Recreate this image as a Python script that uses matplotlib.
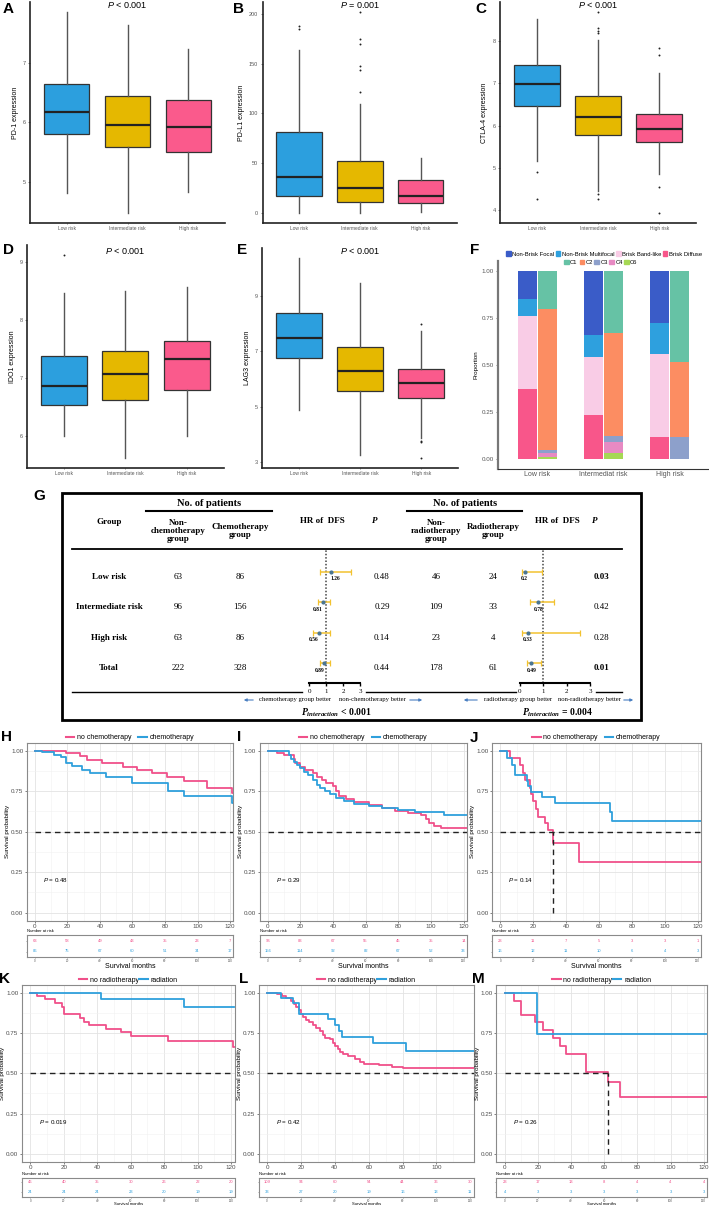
import numpy as np
import matplotlib
matplotlib.use("Agg")
import matplotlib.pyplot as plt
from matplotlib.lines import Line2D
from matplotlib.patches import Patch, Rectangle

W, H = 709, 1207
SERIF = "Liberation Serif"

plt.rcParams["font.family"] = ["Liberation Sans", "DejaVu Sans"]
plt.rcParams["mathtext.fontset"] = "custom"
plt.rcParams["mathtext.it"] = "Liberation Serif:italic:bold"
plt.rcParams["mathtext.rm"] = "Liberation Serif:bold"
plt.rcParams["mathtext.sf"] = "Liberation Sans:italic"

# -------------------------------
# Data: boxplots A-E
# -------------------------------
risk_groups = ["Low risk", "Intermediate risk", "High risk"]
risk_colors = ["#2C9FDE", "#E5B800", "#FA5A8C"]

# [lower whisker, Q1, median, Q3, upper whisker] per risk group
pd1_box = [[4.82, 5.81, 6.18, 6.64, 7.85],
           [4.48, 5.58, 5.96, 6.45, 7.63],
           [4.83, 5.50, 5.92, 6.38, 7.23]]
pd1_out = [[], [], []]

pdl1_box = [[0.0, 17.0, 36.5, 81.7, 164.0],
            [0.0, 11.0, 25.4, 52.0, 110.0],
            [1.3, 9.7, 17.0, 33.0, 55.0]]
pdl1_out = [[184.6, 188.0],
            [122.0, 143.7, 148.0, 169.5, 175.0, 202.0],
            []]

ctla4_box = [[5.17, 6.46, 6.98, 7.42, 8.52],
             [4.45, 5.79, 6.20, 6.71, 8.01],
             [4.87, 5.61, 5.91, 6.28, 7.24]]
ctla4_out = [[4.91, 4.27],
             [8.68, 8.30, 8.23, 8.19, 4.39, 4.27],
             [7.84, 7.66, 4.55, 3.94]]

ido1_box = [[6.00, 6.54, 6.86, 7.37, 8.46],
            [5.63, 6.63, 7.07, 7.47, 8.49],
            [6.00, 6.80, 7.33, 7.63, 8.56]]
ido1_out = [[9.11], [], []]

lag3_box = [[4.88, 6.74, 7.46, 8.37, 10.37],
            [3.26, 5.58, 6.30, 7.14, 9.45],
            [3.86, 5.30, 5.84, 6.35, 7.74]]
lag3_out = [[], [], [8.0, 3.76, 3.72, 3.14]]

# -------------------------------
# Data: stacked proportions F
# -------------------------------
f_groups = ["Low risk", "Intermediat risk", "High risk"]
til_types = ["Non-Brisk Focal", "Non-Brisk Multifocal", "Brisk Band-like", "Brisk Diffuse"]
til_colors = ["#3A5CC8", "#2EA0DE", "#F9CCE6", "#F8568A"]
til_focal = [0.152, 0.341, 0.279]
til_multifocal = [0.087, 0.118, 0.163]
til_bandlike = [0.390, 0.306, 0.441]
til_diffuse = [0.371, 0.235, 0.117]
subtypes = ["C1", "C2", "C3", "C4", "C6"]
subtype_colors = ["#66C2A5", "#FC8D62", "#8DA0CB", "#E78AC3", "#A6D854"]
sub_c1 = [0.203, 0.332, 0.482]
sub_c2 = [0.748, 0.543, 0.401]
sub_c3 = [0.017, 0.035, 0.117]
sub_c4 = [0.018, 0.058, 0.0]
sub_c6 = [0.014, 0.032, 0.0]

# -------------------------------
# Data: forest table G
# -------------------------------
group_names = ["Low risk", "Intermediate risk", "High risk", "Total"]
n_nonchemo = [63, 96, 63, 222]
n_chemo = [86, 156, 86, 328]
hr_chemo = [1.26, 0.81, 0.56, 0.89]
ci_chemo_lo = [0.63, 0.53, 0.24, 0.63]
ci_chemo_hi = [2.46, 1.22, 1.22, 1.22]
p_chemo = [0.48, 0.29, 0.14, 0.44]
n_nonradio = [46, 109, 23, 178]
n_radio = [24, 33, 4, 61]
hr_radio = [0.2, 0.78, 0.33, 0.49]
ci_radio_lo = [0.07, 0.43, 0.07, 0.29]
ci_radio_hi = [0.96, 1.47, 2.58, 0.90]
p_radio = [0.03, 0.42, 0.28, 0.01]

# -------------------------------
# Data: Kaplan-Meier H-M (step times, survival after step)
# -------------------------------
km_months = [0, 20, 40, 60, 80, 100, 120]

h_no_t = [0, 19, 28, 32, 41, 54, 63, 72, 81, 92, 106, 121, 122]
h_no_s = [1, 0.983, 0.966, 0.941, 0.921, 0.90, 0.88, 0.86, 0.838, 0.814, 0.767, 0.736, 0.736]
h_yes_t = [0, 4.5, 12, 16, 19, 23, 29, 34, 44, 60, 82, 92, 121, 122]
h_yes_s = [1, 0.99, 0.975, 0.958, 0.925, 0.906, 0.88, 0.859, 0.838, 0.80, 0.752, 0.719, 0.674, 0.674]

i_no_t = [0, 6, 10, 16, 17, 20, 23, 28, 30, 33, 36, 40, 42, 44, 48, 53, 62, 70, 78, 86, 94, 97, 99, 102, 106, 122]
i_no_s = [1, 0.985, 0.97, 0.95, 0.925, 0.90, 0.88, 0.86, 0.84, 0.82, 0.80, 0.78, 0.75, 0.72, 0.70, 0.68,
          0.665, 0.645, 0.63, 0.615, 0.60, 0.575, 0.555, 0.535, 0.52, 0.52]
i_yes_t = [0, 13, 14, 16, 18, 20, 22, 25, 28, 30, 32, 35, 38, 42, 47, 53, 62, 70, 80, 90, 108, 122]
i_yes_s = [1, 0.97, 0.95, 0.93, 0.91, 0.89, 0.87, 0.85, 0.82, 0.79, 0.77, 0.75, 0.73, 0.71, 0.69, 0.67,
           0.655, 0.645, 0.635, 0.62, 0.60, 0.60]

j_no_t = [0, 6, 12, 14, 15, 18, 19, 20, 22, 23, 27, 29, 32, 48, 122]
j_no_s = [1, 0.955, 0.91, 0.86, 0.82, 0.77, 0.73, 0.69, 0.64, 0.59, 0.55, 0.51, 0.43, 0.31, 0.31]
j_yes_t = [0, 4, 7, 9, 16, 17, 19, 25.5, 33, 66.4, 68, 122]
j_yes_s = [1, 0.955, 0.91, 0.85, 0.815, 0.78, 0.745, 0.712, 0.675, 0.623, 0.568, 0.568]

k_no_t = [0, 4, 9, 15, 19, 20, 30, 32, 35, 45, 54, 60, 82, 121, 122]
k_no_s = [1, 0.98, 0.96, 0.935, 0.91, 0.866, 0.84, 0.815, 0.80, 0.775, 0.755, 0.73, 0.70, 0.665, 0.665]
k_yes_t = [0, 42, 92, 122]
k_yes_s = [1, 0.961, 0.909, 0.909]

l_no_t = [0, 6, 9, 11, 14, 16, 17, 19, 20, 21, 23, 25, 27, 29, 31, 33, 34, 37, 39, 40, 42, 43, 45, 48,
          52, 55, 57, 66, 74, 80, 122]
l_no_s = [1, 0.99, 0.98, 0.97, 0.95, 0.93, 0.91, 0.89, 0.87, 0.85, 0.83, 0.82, 0.80, 0.78, 0.76, 0.74,
          0.72, 0.71, 0.69, 0.67, 0.65, 0.63, 0.62, 0.61, 0.59, 0.57, 0.56, 0.55, 0.54, 0.535, 0.535]
l_yes_t = [0, 8, 15, 19, 36, 40, 42.5, 44, 62.5, 82, 122]
l_yes_s = [1, 0.969, 0.938, 0.866, 0.835, 0.798, 0.763, 0.728, 0.687, 0.639, 0.639]

m_no_t = [0, 5.5, 9.7, 18.5, 22.9, 29, 33.1, 36.7, 48.8, 62, 69.8, 122]
m_no_s = [1, 0.951, 0.862, 0.815, 0.77, 0.719, 0.667, 0.622, 0.507, 0.446, 0.355, 0.355]
m_yes_t = [0, 19.3, 122]
m_yes_s = [1, 0.745, 0.745]

# numbers at risk at km_months (first: no treatment, second: treatment)
h_risk = [[63, 58, 49, 43, 35, 23, 7], [86, 75, 67, 60, 51, 34, 17]]
i_risk = [[96, 83, 67, 55, 45, 35, 14], [156, 114, 92, 82, 67, 52, 33]]
j_risk = [[23, 11, 7, 5, 3, 3, 1], [16, 12, 11, 10, 6, 4, 3]]
k_risk = [[46, 40, 35, 30, 26, 22, 20], [24, 24, 24, 23, 20, 19, 19]]
l_risk = [[109, 94, 60, 54, 44, 36, 30], [33, 27, 20, 19, 16, 13, 11]]
m_risk = [[23, 17, 13, 8, 4, 4, 4], [4, 3, 3, 3, 3, 3, 3]]

KM_PINK = "#F0508A"
KM_BLUE = "#2FA0DC"

# -------------------------------
# helpers (pixel layout)
# -------------------------------
fig = plt.figure(figsize=(W / 100, H / 100), dpi=100)


def px_axes(x0, y0, x1, y1, **kw):
    return fig.add_axes([x0 / W, 1 - y1 / H, (x1 - x0) / W, (y1 - y0) / H], **kw)


def px_text(x, y, s, **kw):
    return fig.text(x / W, 1 - y / H, s, **kw)


# -------------------------------
# A-E boxplots
# -------------------------------
box_panels = [
    (pd1_box, pd1_out, "PD-1 expression", [5, 6, 7], (30, 2, 225, 223), 4.5, "< 0.001"),
    (pdl1_box, pdl1_out, "PD-L1 expression", [0, 50, 100, 150, 200], (262.5, 2, 457, 223), 4.5, "= 0.001"),
    (ctla4_box, ctla4_out, "CTLA-4 expression", [4, 5, 6, 7, 8], (500, 2, 696, 223), 4.5, "< 0.001"),
    (ido1_box, ido1_out, "IDO1 expression", [6, 7, 8, 9], (27, 245, 223.5, 468), 251.5, "< 0.001"),
    (lag3_box, lag3_out, "LAG3 expression", [3, 5, 7, 9], (262, 248, 458, 468), 251.5, "< 0.001"),
]

for stats, outs, ylab, yt, (x0, y0, x1, y1), ty, ptxt in box_panels:
    ax = px_axes(x0, y0, x1, y1)
    bstats = [dict(whislo=s[0], q1=s[1], med=s[2], q3=s[3], whishi=s[4], fliers=o)
              for s, o in zip(stats, outs)]
    parts = ax.bxp(bstats, positions=[1, 2, 3], widths=0.75, patch_artist=True, showcaps=False,
                   boxprops=dict(edgecolor="#333333", linewidth=0.9),
                   medianprops=dict(color="#222222", linewidth=1.6),
                   whiskerprops=dict(color="#555555", linewidth=1.0),
                   flierprops=dict(marker="o", markersize=1.4, markerfacecolor="#222222",
                                   markeredgecolor="none"))
    for b, c in zip(parts["boxes"], risk_colors):
        b.set_facecolor(c)
    vals = [v for s in stats for v in s] + [v for o in outs for v in o]
    pad = 0.05 * (max(vals) - min(vals))
    ax.set_ylim(min(vals) - pad, max(vals) + pad)
    ax.set_xlim(0.4, 3.6)
    ax.set_yticks(yt)
    ax.set_xticks([1, 2, 3])
    ax.set_xticklabels(risk_groups)
    for s in ["top", "right"]:
        ax.spines[s].set_visible(False)
    for s in ["left", "bottom"]:
        ax.spines[s].set_color("#222222")
        ax.spines[s].set_linewidth(1.2)
    ax.tick_params(axis="y", length=1.5, width=0.5, colors="#555555", labelsize=4, pad=1.5)
    ax.tick_params(axis="x", length=1.0, width=0.5, colors="#555555", labelsize=3.5, pad=1.5)
    ax.set_ylabel(ylab, fontsize=5, labelpad=3)
    px_text((x0 + x1) / 2, ty, r"$\mathsf{P}$ " + ptxt, fontsize=6.5, ha="center", va="center")

# -------------------------------
# F stacked bars
# -------------------------------
axf = px_axes(497.7, 261.3, 709, 468.7)
xg = np.arange(1, 4)
bottom = np.zeros(3)
for vals, c in zip([til_diffuse, til_bandlike, til_multifocal, til_focal], til_colors[::-1]):
    axf.bar(xg - 0.15, vals, 0.29, bottom=bottom, color=c)
    bottom += np.array(vals)
bottom = np.zeros(3)
for vals, c in zip([sub_c6, sub_c4, sub_c3, sub_c2, sub_c1], subtype_colors[::-1]):
    axf.bar(xg + 0.15, vals, 0.29, bottom=bottom, color=c)
    bottom += np.array(vals)
axf.set_xlim(0.4, 3.6)
axf.set_ylim(-0.05, 1.05)
axf.set_yticks([0, 0.25, 0.5, 0.75, 1.0])
axf.set_yticklabels(["0.00", "0.25", "0.50", "0.75", "1.00"])
axf.set_xticks(xg)
axf.set_xticklabels(f_groups)
for s in ["top", "right"]:
    axf.spines[s].set_visible(False)
axf.spines["left"].set_color("#777777")
axf.spines["left"].set_linewidth(1.6)
axf.spines["bottom"].set_color("#333333")
axf.spines["bottom"].set_linewidth(0.8)
axf.tick_params(axis="y", length=1.5, width=0.5, colors="#555555", labelsize=4.5, pad=1.5)
axf.tick_params(axis="x", length=0, colors="#555555", labelsize=5, pad=2)
axf.set_ylabel("Proportion", fontsize=4.5, labelpad=2)
fig.legend([Patch(color=c) for c in til_colors], til_types, loc="center",
           bbox_to_anchor=(604 / W, 1 - 254 / H), ncol=4, frameon=False, fontsize=4.2,
           handlelength=0.8, handleheight=0.8, handletextpad=0.2, columnspacing=0.3, borderpad=0)
fig.legend([Patch(color=c) for c in subtype_colors], subtypes, loc="center",
           bbox_to_anchor=(601 / W, 1 - 262.5 / H), ncol=5, frameon=False, fontsize=4.2,
           handlelength=0.8, handleheight=0.8, handletextpad=0.2, columnspacing=0.3, borderpad=0)

# -------------------------------
# G forest table
# -------------------------------
g = px_axes(0, 480, W, 730)
g.set_xlim(0, W)
g.set_ylim(730, 480)
g.axis("off")
g.add_patch(Rectangle((62, 493), 579, 227, fill=False, lw=2, ec="black", clip_on=False))
hdr = dict(family=SERIF, fontweight="bold", ha="center", va="center")
txt = dict(family=SERIF, ha="center", va="center")
g.text(208.7, 504, "No. of patients", fontsize=7.5, **hdr)
g.text(465, 504, "No. of patients", fontsize=7.5, **hdr)
g.plot([146, 272], [511, 511], color="black", lw=1.5)
g.plot([407, 522], [511, 511], color="black", lw=1.5)
g.text(109, 522, "Group", fontsize=6.5, **hdr)
g.text(178, 531, "Non-\nchemotherapy\ngroup", fontsize=6.5, linespacing=1.05, **hdr)
g.text(240, 531, "Chemotherapy\ngroup", fontsize=6.5, linespacing=1.05, **hdr)
g.text(322, 521, "HR of  DFS", fontsize=6.5, **hdr)
g.text(375, 521, "P", fontsize=6.5, style="italic", **hdr)
g.text(436, 531, "Non-\nradiotherapy\ngroup", fontsize=6.5, linespacing=1.05, **hdr)
g.text(493, 531, "Radiotherapy\ngroup", fontsize=6.5, linespacing=1.05, **hdr)
g.text(557, 521, "HR of  DFS", fontsize=6.5, **hdr)
g.text(595, 521, "P", fontsize=6.5, style="italic", **hdr)
g.plot([72, 622], [549, 549], color="black", lw=1.3)

row_y = [576.8 + 30.5 * i for i in range(4)]
for i, y in enumerate(row_y):
    g.text(109, y, group_names[i], fontsize=6.5, **hdr)
    g.text(178, y, str(n_nonchemo[i]), fontsize=6.5, **txt)
    g.text(240, y, str(n_chemo[i]), fontsize=6.5, **txt)
    g.text(382, y, f"{p_chemo[i]:.2f}", fontsize=6.5,
           fontweight="bold" if p_chemo[i] < 0.05 else "normal", **txt)
    g.text(436, y, str(n_nonradio[i]), fontsize=6.5, **txt)
    g.text(493, y, str(n_radio[i]), fontsize=6.5, **txt)
    g.text(601, y, f"{p_radio[i]:.2f}", fontsize=6.5,
           fontweight="bold" if p_radio[i] < 0.05 else "normal", **txt)

for xa, xb in [(72, 302), (366, 516), (596, 622)]:
    g.plot([xa, xb], [691.7, 691.7], color="black", lw=1.0)

arrow = dict(arrowstyle="-|>", color="#4A7FC1", lw=0.8, mutation_scale=4)
g.annotate("", xy=(241, 700), xytext=(256, 700), arrowprops=arrow)
g.text(295, 700, "chemotherapy group better", fontsize=4.8, **txt)
g.text(372, 700, "non-chemotherapy better", fontsize=4.8, **txt)
g.annotate("", xy=(425, 700), xytext=(407, 700), arrowprops=arrow)
g.annotate("", xy=(461, 700), xytext=(480, 700), arrowprops=arrow)
g.text(518, 700, "radiotherapy group better", fontsize=4.8, **txt)
g.text(589, 700, "non-radiotherapy better", fontsize=4.8, **txt)
g.annotate("", xy=(636, 700), xytext=(621, 700), arrowprops=arrow)
g.text(336, 713, r"$P_{interaction}$ < 0.001", fontsize=7, **hdr)
g.text(558, 713, r"$P_{interaction}$ = 0.004", fontsize=7, **hdr)


def forest(ax, hr, lo, hi, xlim, side):
    rows = np.arange(len(hr))
    hr = np.array(hr)
    ax.errorbar(hr, rows, xerr=[hr - np.array(lo), np.array(hi) - hr], fmt="o", ms=2,
                mfc="#4A7592", mec="#4A7592", ecolor="#F2C230", elinewidth=1.1,
                capsize=2, capthick=0.9, zorder=3)
    ax.axvline(1, color="#444444", ls=(0, (1, 1.2)), lw=1.1, zorder=2)
    for r, v in zip(rows, hr):
        ha = side if side != "auto" else ("left" if v > 1 else "right")
        ax.text(v, r + 0.22, f"{v}", fontsize=4, family=SERIF, fontweight="bold", ha=ha, va="center")
    ax.set_xlim(*xlim)
    ax.set_ylim(3.646, -0.748)
    for s in ["top", "right", "left"]:
        ax.spines[s].set_visible(False)
    ax.spines["bottom"].set_bounds(0, 3)
    ax.spines["bottom"].set_linewidth(1.5)
    ax.set_xticks([0, 1, 2, 3])
    ax.set_xticklabels(["0", "1", "2", "3"], fontfamily=SERIF)
    ax.set_yticks([])
    ax.tick_params(axis="x", length=2.5, width=1, labelsize=5, pad=1.5)
    ax.patch.set_alpha(0)


forest(px_axes(290, 549, 375, 683), hr_chemo, ci_chemo_lo, ci_chemo_hi, (-1.142, 3.888), "auto")
forest(px_axes(505, 549, 610, 683), hr_radio, ci_radio_lo, ci_radio_hi, (-0.643, 3.858), "center")

# -------------------------------
# H-M Kaplan-Meier
# -------------------------------
km_panels = [
    ((h_no_t, h_no_s), (h_yes_t, h_yes_s), h_risk, (26.7, 233.3), 1, "0.48", ("no chemotherapy", "chemotherapy"), km_months),
    ((i_no_t, i_no_s), (i_yes_t, i_yes_s), i_risk, (259.5, 466.8), 1, "0.29", ("no chemotherapy", "chemotherapy"), km_months),
    ((j_no_t, j_no_s), (j_yes_t, j_yes_s), j_risk, (492, 701), 1, "0.14", ("no chemotherapy", "chemotherapy"), km_months),
    ((k_no_t, k_no_s), (k_yes_t, k_yes_s), k_risk, (21.9, 234.5), 2, "0.019", ("no radiotherapy", "radiation"), km_months),
    ((l_no_t, l_no_s), (l_yes_t, l_yes_s), l_risk, (258.7, 473.6), 2, "0.42", ("no radiotherapy", "radiation"), km_months[:-1]),
    ((m_no_t, m_no_s), (m_yes_t, m_yes_s), m_risk, (496.4, 707), 2, "0.26", ("no radiotherapy", "radiation"), km_months),
]
row_geom = {1: dict(ax=(742.5, 920.6), tab=(935, 957), xlab=966, xlab_fs=5),
            2: dict(ax=(984.6, 1162), tab=(1177.7, 1196.7), xlab=1204, xlab_fs=3)}

for c_no, c_yes, risk, (x0, x1), row, pval, labels, xt in km_panels:
    geo = row_geom[row]
    ax = px_axes(x0, geo["ax"][0], x1, geo["ax"][1])
    ax.set_xlim(-5, 122)
    ax.set_ylim(-0.05, 1.05)
    ax.set_xticks(xt)
    ax.set_xticks(np.arange(10, 130, 20), minor=True)
    ax.set_yticks([0, 0.25, 0.5, 0.75, 1.0])
    ax.set_yticklabels(["0.00", "0.25", "0.50", "0.75", "1.00"])
    ax.set_yticks([0.125, 0.375, 0.625, 0.875], minor=True)
    ax.grid(which="major", color="#E3E3E3", lw=0.6)
    ax.grid(which="minor", color="#F1F1F1", lw=0.4)
    ax.set_axisbelow(True)
    ax.tick_params(which="minor", length=0)
    ax.tick_params(which="major", length=1.5, width=0.5, colors="#4D4D4D", labelsize=4.5, pad=1)
    for s in ax.spines.values():
        s.set_color("#8A8A8A")
        s.set_linewidth(0.8)
    handles = []
    medians = []
    for (t, s), col in zip([c_no, c_yes], [KM_PINK, KM_BLUE]):
        ax.step(t, s, where="post", color=col, lw=1.3, zorder=3)
        handles.append(Line2D([], [], color=col, lw=1.5))
        below = [tt for tt, ss in zip(t, s) if ss <= 0.5]
        if below:
            medians.append(below[0])
    if medians and row == 2:
        ax.plot([0, medians[0]], [0.5, 0.5], color="#222222", ls=(0, (4, 3)), lw=1.0, zorder=4)
    else:
        ax.plot([0, 122], [0.5, 0.5], color="#222222", ls=(0, (4, 3)), lw=1.0, zorder=4)
    for m in medians:
        ax.plot([m, m], [0, 0.5], color="#222222", ls=(0, (4, 3)), lw=1.0, zorder=4)
    ax.text(5, 0.2, r"$\mathsf{P}$ = " + pval, fontsize=4.5, ha="left", va="center")
    ax.set_ylabel("Survival probability", fontsize=4.6, labelpad=0.8)
    ax.legend(handles, labels, loc="lower center", bbox_to_anchor=(0.5, 1.0), ncol=2,
              frameon=False, fontsize=5, handlelength=1.2, handletextpad=0.4,
              columnspacing=1.0 if row == 1 else 0.1, borderpad=0, borderaxespad=0.15)

    # risk table
    ty0, ty1 = geo["tab"]
    tb = px_axes(x0, ty0, x1, ty1)
    tb.set_xlim(-5, 122)
    tb.set_ylim(-0.5, 1.5)
    for r, (vals, col) in enumerate(zip(risk, [KM_PINK, KM_BLUE])):
        for mth, v in zip(km_months, vals):
            tb.text(mth, 1 - r, str(v), color=col, fontsize=3, ha="center", va="center")
    tb.set_yticks([0, 1])
    tb.set_yticklabels([])
    tb.set_xticks(km_months)
    tb.set_xticklabels([str(m) for m in km_months])
    tb.tick_params(length=1.0, width=0.4, colors="#555555", labelsize=2.2, pad=0.4)
    for s in tb.spines.values():
        s.set_color("#8A8A8A")
        s.set_linewidth(0.8)
    px_text(x0, ty0 - 1.5, "Number at risk", fontsize=3, ha="left", va="bottom")
    px_text((x0 + x1) / 2, geo["xlab"], "Survival months", fontsize=geo["xlab_fs"],
            ha="center", va="center")

# -------------------------------
# panel letters
# -------------------------------
letters = [("A", 8, 9), ("B", 239, 9), ("C", 481, 9), ("D", 8, 250), ("E", 242, 250),
           ("F", 475, 250), ("G", 39, 496), ("H", 7, 737), ("I", 239, 737), ("J", 474, 738),
           ("K", 5, 979), ("L", 244, 979), ("M", 478, 979)]
for lab, x, y in letters:
    px_text(x, y, lab, fontsize=11, fontweight="bold", ha="center", va="center")

fig.savefig("out.png", dpi=100)
plt.close(fig)
